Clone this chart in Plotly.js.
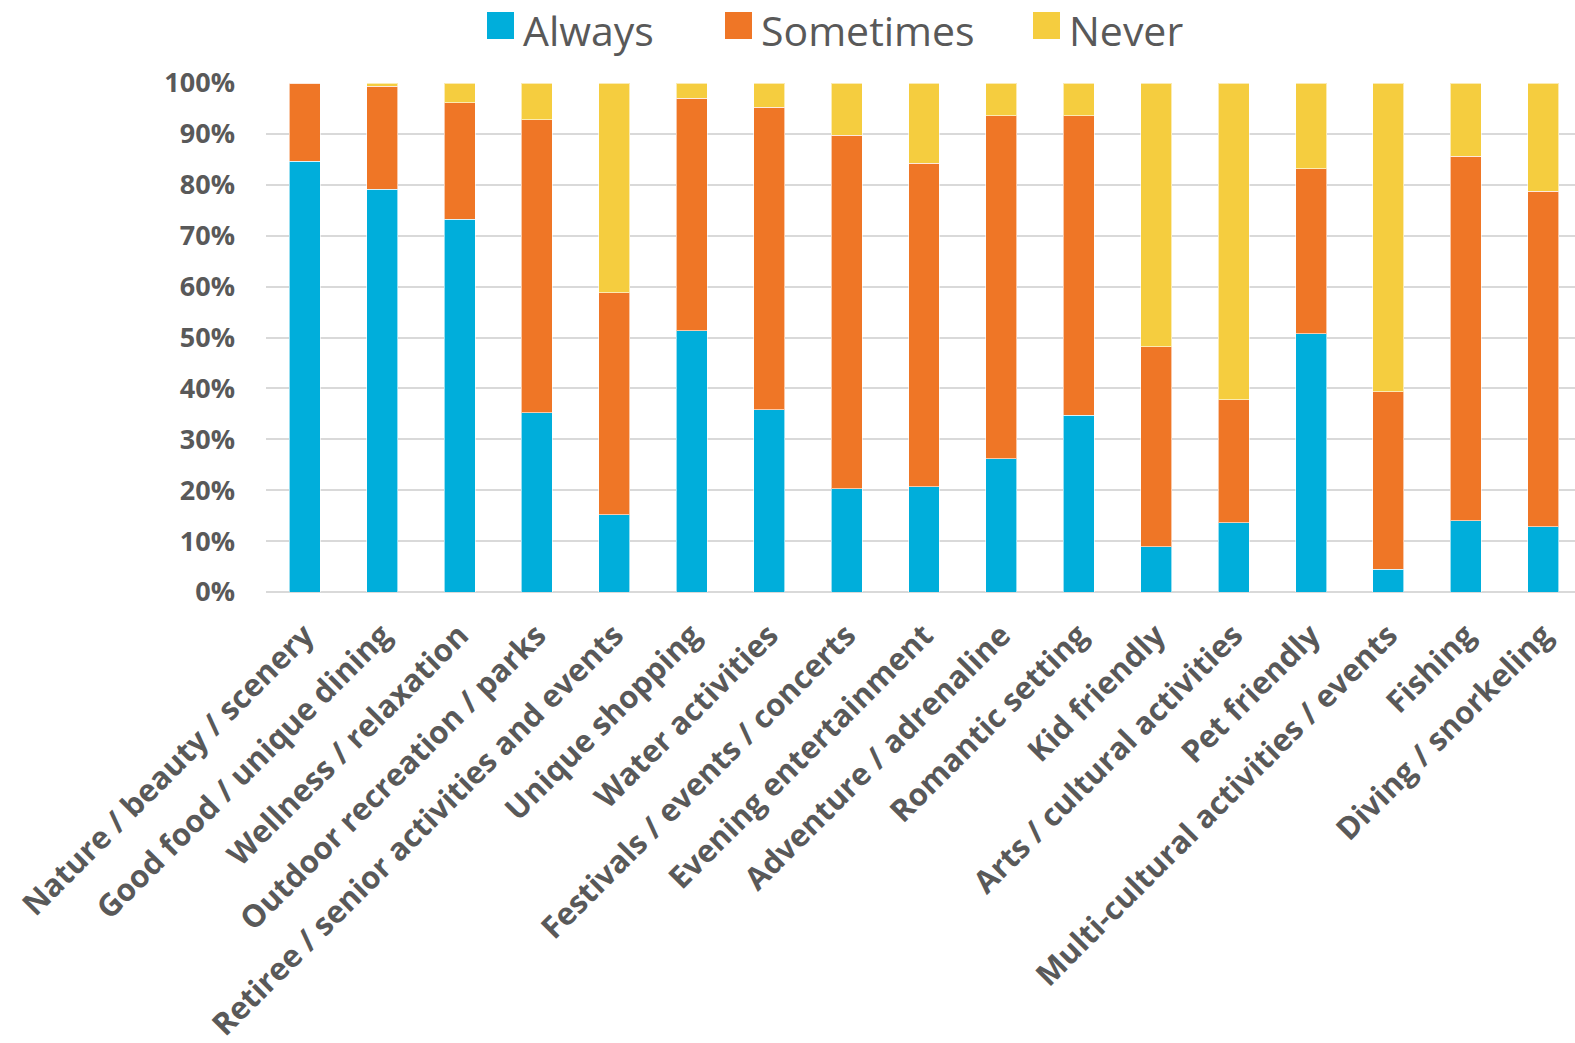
<!DOCTYPE html>
<html>
<head>
<meta charset="utf-8">
<script src="https://cdn.plot.ly/plotly-3.0.1.min.js"></script>
<style>
html,body{margin:0;padding:0;background:#fff;}
#chart{width:1575px;height:1043px;}
</style>
</head>
<body>
<div id="chart"></div>
<script>
const categories = [
  "Nature / beauty / scenery",
  "Good food / unique dining",
  "Wellness / relaxation",
  "Outdoor recreation / parks",
  "Retiree / senior activities and events",
  "Unique shopping",
  "Water activities",
  "Festivals / events / concerts",
  "Evening entertainment",
  "Adventure / adrenaline",
  "Romantic setting",
  "Kid friendly",
  "Arts / cultural activities",
  "Pet friendly",
  "Multi-cultural activities / events",
  "Fishing",
  "Diving / snorkeling"
];
const seriesNames = ["Always", "Sometimes", "Never"];
const always    = [84.6, 79.1, 73.2, 35.2, 15.2, 51.3, 35.8, 20.3, 20.7, 26.2, 34.7,  8.9, 13.6, 50.7,  4.5, 14.0, 12.8];
const sometimes = [15.4, 20.3, 22.9, 57.6, 43.6, 45.7, 59.4, 69.4, 63.5, 67.4, 58.9, 39.3, 24.2, 32.5, 34.8, 71.6, 65.9];
const never     = [ 0.0,  0.6,  3.9,  7.2, 41.2,  3.0,  4.8, 10.3, 15.8,  6.4,  6.4, 51.8, 62.2, 16.8, 60.7, 14.4, 21.3];
const yTickVals = [0, 10, 20, 30, 40, 50, 60, 70, 80, 90, 100];
const colors = ["#00AEDB", "#EF7626", "#F5CD3F"];

const W = 1575, H = 1043;
const ML = 266, MR = 0, MT = 83, MB = 451;
const plotW = W - ML - MR, plotH = H - MT - MB;
const px2x = p => (p - ML) / plotW;
const px2y = p => (H - MB - p) / plotH;

const valueSets = [always, sometimes, never];
const traces = seriesNames.map((name, i) => ({
  type: "bar",
  name: name,
  x: categories,
  y: valueSets[i],
  marker: {color: colors[i], line: {color: "rgba(255,255,255,0.6)", width: 1}},
  hoverinfo: "x+y+name"
}));

// custom legend (large square swatches like the original)
const legendSquareLeft = [487, 725, 1033];
const sq = 27, sqTop = 12;
const shapes = [];
const annotations = [];
seriesNames.forEach((name, i) => {
  const l = legendSquareLeft[i];
  shapes.push({
    type: "rect", xref: "paper", yref: "paper",
    x0: px2x(l), x1: px2x(l + sq), y0: px2y(sqTop + sq), y1: px2y(sqTop),
    fillcolor: colors[i], line: {width: 0}
  });
  annotations.push({
    xref: "paper", yref: "paper", x: px2x(l + sq + 8), y: px2y(0.5),
    xanchor: "left", yanchor: "top", showarrow: false, borderpad: 0,
    text: name, font: {family: "'Open Sans', sans-serif", size: 41, color: "#595959"}
  });
});

const layout = {
  width: W, height: H,
  margin: {l: ML, r: MR, t: MT, b: MB, pad: 0},
  paper_bgcolor: "#ffffff",
  plot_bgcolor: "#ffffff",
  barmode: "stack",
  bargap: 0.6,
  showlegend: false,
  font: {family: "'Open Sans', sans-serif", color: "#595959"},
  xaxis: {
    type: "category",
    range: [-0.5, 16.41],
    tickangle: -45,
    showgrid: false,
    showline: false,
    zeroline: false,
    ticks: "",
    ticklabelstandoff: 18,
    tickfont: {family: "'Open Sans', sans-serif", size: 31, color: "#595959", weight: "bold"},
    automargin: false
  },
  yaxis: {
    range: [0, 100],
    tickvals: yTickVals,
    ticktext: yTickVals.map(v => v + "%"),
    showgrid: true,
    gridcolor: "#D9D9D9",
    gridwidth: 2,
    zeroline: true,
    zerolinecolor: "#D9D9D9",
    zerolinewidth: 2,
    showline: false,
    ticks: "",
    ticklabelstandoff: 30,
    tickfont: {family: "'Open Sans', sans-serif", size: 27, color: "#595959", weight: "bold"},
    automargin: false
  },
  shapes: shapes,
  annotations: annotations
};

Plotly.newPlot("chart", traces, layout, {staticPlot: true, displayModeBar: false});
</script>
</body>
</html>
